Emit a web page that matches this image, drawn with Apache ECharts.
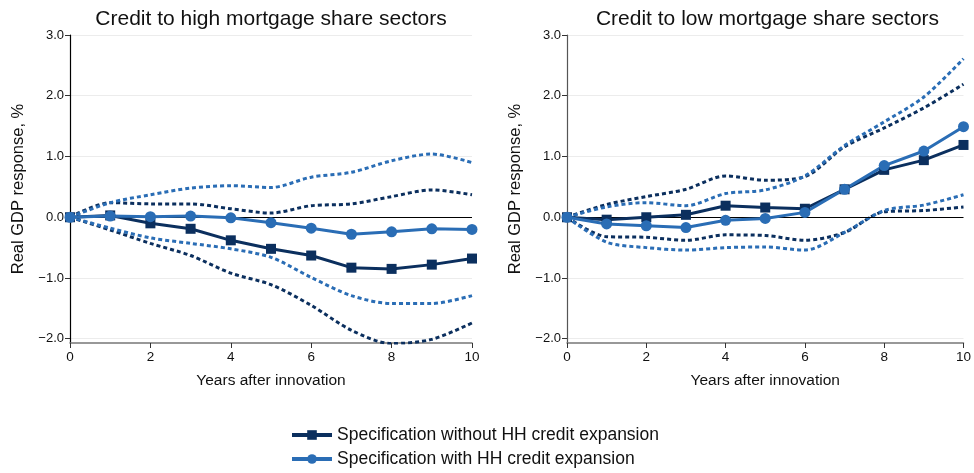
<!DOCTYPE html>
<html>
<head>
<meta charset="utf-8">
<script src="https://cdn.jsdelivr.net/npm/echarts@6/dist/echarts.min.js"></script>
<style>
  html, body { margin: 0; padding: 0; background: #fff; }
  #chart { width: 974px; height: 473px; }
</style>
</head>
<body>
<div id="chart"></div>
<script>
// years after innovation
var years = [0, 1, 2, 3, 4, 5, 6, 7, 8, 9, 10];

// panel 1: credit to high mortgage share sectors
var highWithout = [0, 0.03, -0.10, -0.19, -0.38, -0.52, -0.63, -0.83, -0.85, -0.78, -0.68];
var highWithoutUp = [0, 0.24, 0.22, 0.22, 0.14, 0.07, 0.19, 0.22, 0.34, 0.45, 0.37];
var highWithoutLo = [0, -0.21, -0.43, -0.63, -0.92, -1.11, -1.45, -1.86, -2.08, -2.01, -1.74];
var highWith = [0, 0.02, 0.01, 0.02, -0.01, -0.09, -0.18, -0.28, -0.24, -0.19, -0.20];
var highWithUp = [0, 0.24, 0.37, 0.48, 0.52, 0.49, 0.66, 0.74, 0.93, 1.04, 0.90];
var highWithLo = [0, -0.18, -0.34, -0.43, -0.52, -0.66, -0.99, -1.29, -1.42, -1.42, -1.29];

// panel 2: credit to low mortgage share sectors
var lowWithout = [0, -0.04, 0.00, 0.04, 0.19, 0.16, 0.14, 0.46, 0.78, 0.94, 1.19];
var lowWithoutUp = [0, 0.21, 0.34, 0.46, 0.68, 0.61, 0.67, 1.16, 1.47, 1.80, 2.19];
var lowWithoutLo = [0, -0.32, -0.33, -0.38, -0.29, -0.30, -0.38, -0.25, 0.09, 0.11, 0.17];
var lowWith = [0, -0.11, -0.14, -0.17, -0.05, -0.02, 0.08, 0.46, 0.85, 1.09, 1.49];
var lowWithUp = [0, 0.17, 0.24, 0.19, 0.39, 0.45, 0.68, 1.18, 1.57, 1.98, 2.61];
var lowWithLo = [0, -0.41, -0.50, -0.54, -0.50, -0.49, -0.54, -0.25, 0.11, 0.20, 0.37];

var yTicks = [-2, -1, 0, 1, 2, 3];
var titles = ['Credit to high mortgage share sectors', 'Credit to low mortgage share sectors'];
var nameWithout = 'Specification without HH credit expansion';
var nameWith = 'Specification with HH credit expansion';

var dark = '#0b2f5e';
var light = '#2a6db5';
var font = 'Liberation Sans, Arial, sans-serif';

function pairs(vals) {
    return years.map(function(x, i) { return [x, vals[i]]; });
}

function fmt(v) {
    return v < 0 ? '\u2212' + Math.abs(v).toFixed(1) : v.toFixed(1);
}

function solid(name, vals, color, symbol, size, idx, zero) {
    var s = {
        name: name, type: 'line', data: pairs(vals),
        xAxisIndex: idx, yAxisIndex: idx,
        symbol: symbol, symbolSize: size, showSymbol: true,
        lineStyle: { color: color, width: 3 },
        itemStyle: { color: color },
        z: 5
    };
    if (zero) {
        s.markLine = {
            silent: true, symbol: 'none', label: { show: false },
            lineStyle: { color: '#000', width: 1, type: 'solid' },
            data: [{ yAxis: 0 }]
        };
    }
    return s;
}

function dashed(name, vals, color, idx) {
    return {
        name: name, type: 'line', data: pairs(vals),
        xAxisIndex: idx, yAxisIndex: idx,
        symbol: 'none', smooth: 0.3,
        lineStyle: { color: color, width: 3, type: [4, 3] },
        z: 3
    };
}

var grids = [
    { left: 70, right: 502, top: 35, bottom: 130 },
    { left: 567, right: 6, top: 35, bottom: 130 }
];

var chart = echarts.init(document.getElementById('chart'));

option = {
    backgroundColor: '#fff',
    animation: false,
    textStyle: { fontFamily: font },
    title: titles.map(function(t, i) {
        return {
            text: t,
            left: (grids[i].left + (974 - grids[i].right)) / 2,
            textAlign: 'center',
            top: 9,
            padding: 0,
            textStyle: { fontFamily: font, fontSize: 21, fontWeight: 'normal', color: '#111' }
        };
    }),
    legend: {
        data: [nameWithout, nameWith],
        orient: 'vertical',
        left: 290,
        top: 426,
        padding: 0,
        itemGap: 6,
        itemWidth: 40,
        itemHeight: 12,
        lineStyle: { width: 4 },
        textStyle: { fontFamily: font, fontSize: 17.5, color: '#111' }
    },
    grid: grids,
    xAxis: [0, 1].map(function(i) {
        return {
            type: 'value', gridIndex: i, min: 0, max: 10, interval: 2,
            name: 'Years after innovation', nameLocation: 'middle', nameGap: 30,
            nameTextStyle: { fontFamily: font, fontSize: 15.5, color: '#111' },
            axisLine: { onZero: false, lineStyle: { color: '#777', width: 1.5 } },
            axisTick: { lineStyle: { color: '#333' }, length: 5 },
            axisLabel: { fontFamily: font, fontSize: 13.5, color: '#111', margin: 7 },
            splitLine: { show: false }
        };
    }),
    yAxis: [0, 1].map(function(i) {
        return {
            type: 'value', gridIndex: i, min: -2.07, max: 3,
            name: 'Real GDP response, %', nameLocation: 'middle', nameGap: 43,
            nameTextStyle: { fontFamily: font, fontSize: 16.5, color: '#111' },
            axisLine: { show: true, onZero: false, lineStyle: { color: i === 0 ? '#000' : '#555', width: 1.2 } },
            axisTick: { show: true, length: 5, lineStyle: { color: '#333' }, customValues: yTicks },
            axisLabel: { fontFamily: font, fontSize: 13, color: '#111', margin: 6,
                customValues: yTicks, formatter: fmt },
            splitLine: { show: true, lineStyle: { color: '#ececec', width: 1 } }
        };
    }),
    series: [
        dashed('hwou', highWithoutUp, dark, 0),
        dashed('hwol', highWithoutLo, dark, 0),
        dashed('hwu', highWithUp, light, 0),
        dashed('hwl', highWithLo, light, 0),
        solid(nameWithout, highWithout, dark, 'rect', 10, 0, true),
        solid(nameWith, highWith, light, 'circle', 11, 0, false),
        dashed('lwou', lowWithoutUp, dark, 1),
        dashed('lwol', lowWithoutLo, dark, 1),
        dashed('lwu', lowWithUp, light, 1),
        dashed('lwl', lowWithLo, light, 1),
        solid(nameWithout, lowWithout, dark, 'rect', 10, 1, true),
        solid(nameWith, lowWith, light, 'circle', 11, 1, false)
    ]
};

chart.setOption(option);
</script>
</body>
</html>
